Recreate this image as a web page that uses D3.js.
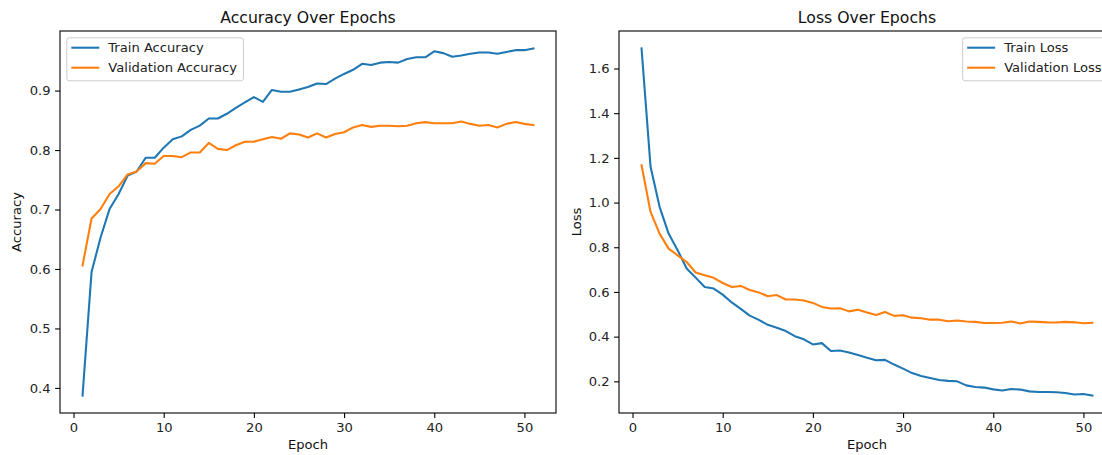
<!DOCTYPE html>
<html>
<head>
<meta charset="utf-8">
<script src="https://cdn.jsdelivr.net/npm/d3@7"></script>
<style>
  body { margin: 0; background: #fff; }
  svg { display: block; font-family: "DejaVu Sans", sans-serif; }
</style>
</head>
<body>
<svg id="chart" width="1102" height="455"></svg>
<script>
// ---- Data ----
const epochs = d3.range(1, 52);
const trainAccuracy = [0.387,0.595,0.653,0.701,0.726,0.757,0.764,0.787,0.787,0.804,0.818,0.823,0.834,0.841,0.853,0.853,0.861,0.871,0.880,0.889,0.881,0.901,0.898,0.898,0.902,0.906,0.912,0.911,0.920,0.928,0.935,0.945,0.943,0.947,0.948,0.947,0.953,0.956,0.956,0.966,0.963,0.957,0.959,0.962,0.964,0.964,0.962,0.965,0.968,0.968,0.971];
const valAccuracy = [0.606,0.685,0.701,0.726,0.739,0.759,0.764,0.778,0.777,0.790,0.790,0.788,0.796,0.796,0.812,0.802,0.800,0.808,0.814,0.814,0.818,0.822,0.819,0.828,0.826,0.821,0.828,0.821,0.827,0.830,0.838,0.842,0.839,0.841,0.841,0.840,0.841,0.845,0.847,0.845,0.845,0.845,0.848,0.844,0.841,0.842,0.838,0.844,0.847,0.844,0.842];
const trainLoss = [1.69,1.160,0.981,0.861,0.787,0.705,0.664,0.622,0.615,0.588,0.553,0.524,0.494,0.475,0.453,0.440,0.425,0.402,0.388,0.365,0.371,0.336,0.338,0.329,0.318,0.306,0.294,0.296,0.275,0.257,0.237,0.224,0.215,0.206,0.202,0.200,0.182,0.175,0.172,0.164,0.159,0.166,0.163,0.155,0.152,0.152,0.151,0.148,0.141,0.143,0.136];
const valLoss = [1.167,0.958,0.861,0.794,0.764,0.734,0.687,0.675,0.663,0.640,0.622,0.627,0.609,0.598,0.581,0.586,0.566,0.566,0.562,0.551,0.533,0.526,0.527,0.513,0.520,0.508,0.497,0.510,0.493,0.496,0.485,0.482,0.476,0.476,0.469,0.472,0.468,0.466,0.461,0.461,0.462,0.468,0.459,0.468,0.466,0.464,0.463,0.466,0.464,0.460,0.462];
const xTicks = [0, 10, 20, 30, 40, 50];
const accTicks = [0.4, 0.5, 0.6, 0.7, 0.8, 0.9];
const lossTicks = [0.2, 0.4, 0.6, 0.8, 1.0, 1.2, 1.4, 1.6];

const C_BLUE = "#1f77b4", C_ORANGE = "#ff7f0e";
const FS = 13.1, TITLE_FS = 15.7;
const svg = d3.select("#chart");

function panel(opts) {
  const { left, right, top, bottom } = opts;
  const g = svg.append("g");
  const pad = (a, b) => { const m = (b - a) * 0.05; return [a - m, b + m]; };
  const x = d3.scaleLinear().domain(pad(1, 51)).range([left, right]);
  const all = opts.series.flatMap(s => s.values);
  const y = d3.scaleLinear().domain(pad(d3.min(all), d3.max(all))).range([bottom, top]);

  // lines
  const line = d3.line().x((d, i) => x(epochs[i])).y(d => y(d));
  opts.series.forEach(s => {
    g.append("path").datum(s.values)
      .attr("d", line).attr("fill", "none")
      .attr("stroke", s.color).attr("stroke-width", 2.08)
      .attr("stroke-linejoin", "round").attr("stroke-linecap", "square");
  });

  // axes
  const xAxis = d3.axisBottom(x).tickValues(xTicks).tickSize(4.9).tickPadding(4.6).tickFormat(d3.format("d"));
  const yAxis = d3.axisLeft(y).tickValues(opts.yTicks).tickSize(4.9).tickPadding(4.6).tickFormat(d3.format(".1f"));
  const gx = g.append("g").attr("transform", `translate(0,${bottom})`).call(xAxis);
  const gy = g.append("g").attr("transform", `translate(${left},0)`).call(yAxis);
  [gx, gy].forEach(a => {
    a.select(".domain").remove();
    a.selectAll(".tick line").attr("stroke", "#000").attr("stroke-width", 1.1);
    a.selectAll(".tick text").attr("fill", "#222").attr("font-size", FS)
      .attr("font-family", "DejaVu Sans, sans-serif");
  });
  gx.selectAll(".tick text").attr("dy", "0.72em");

  // frame
  g.append("rect").attr("x", left).attr("y", top)
    .attr("width", right - left).attr("height", bottom - top)
    .attr("fill", "none").attr("stroke", "#000").attr("stroke-width", 1.1);

  // title and labels
  g.append("text").attr("x", (left + right) / 2).attr("y", top - 8.3)
    .attr("text-anchor", "middle").attr("font-size", TITLE_FS).attr("fill", "#111").text(opts.title);
  g.append("text").attr("x", (left + right) / 2).attr("y", 449)
    .attr("text-anchor", "middle").attr("font-size", FS).attr("fill", "#111").text("Epoch");
  g.append("text").attr("transform", `translate(${opts.ylabelX},${(top + bottom) / 2}) rotate(-90)`)
    .attr("text-anchor", "middle").attr("font-size", FS).attr("fill", "#111").text(opts.ylabel);

  // legend
  const lg = g.append("g");
  const padL = 4.5, padR = 6.5, handleLen = 28, htp = 9, rowH = 20;
  const texts = opts.series.map((s, i) =>
    lg.append("text").attr("font-size", FS).attr("fill", "#222").text(s.label));
  const tw = d3.max(texts, t => t.node().getComputedTextLength());
  const boxW = padL + handleLen + htp + tw + padR;
  const boxH = 43;
  const bx = opts.legendAlign === "left" ? left + 6.8 : right - 6.8 - boxW;
  const by = top + 6.8;
  lg.insert("rect", "text").attr("x", bx).attr("y", by).attr("width", boxW).attr("height", boxH)
    .attr("rx", 2.5).attr("fill", "rgba(255,255,255,0.8)").attr("stroke", "#ccc").attr("stroke-width", 1);
  opts.series.forEach((s, i) => {
    const cy = by + 9.9 + i * rowH;
    lg.append("line").attr("x1", bx + padL).attr("x2", bx + padL + handleLen)
      .attr("y1", cy).attr("y2", cy).attr("stroke", s.color).attr("stroke-width", 2.08);
    texts[i].attr("x", bx + padL + handleLen + htp).attr("y", cy).attr("dy", "0.36em");
  });
}

panel({
  left: 60, right: 556, top: 31, bottom: 413,
  title: "Accuracy Over Epochs", ylabel: "Accuracy", ylabelX: 21,
  yTicks: accTicks, legendAlign: "left",
  series: [
    { label: "Train Accuracy", values: trainAccuracy, color: C_BLUE },
    { label: "Validation Accuracy", values: valAccuracy, color: C_ORANGE }
  ]
});
panel({
  left: 619, right: 1115, top: 31, bottom: 413,
  title: "Loss Over Epochs", ylabel: "Loss", ylabelX: 581,
  yTicks: lossTicks, legendAlign: "right",
  series: [
    { label: "Train Loss", values: trainLoss, color: C_BLUE },
    { label: "Validation Loss", values: valLoss, color: C_ORANGE }
  ]
});
</script>
</body>
</html>
